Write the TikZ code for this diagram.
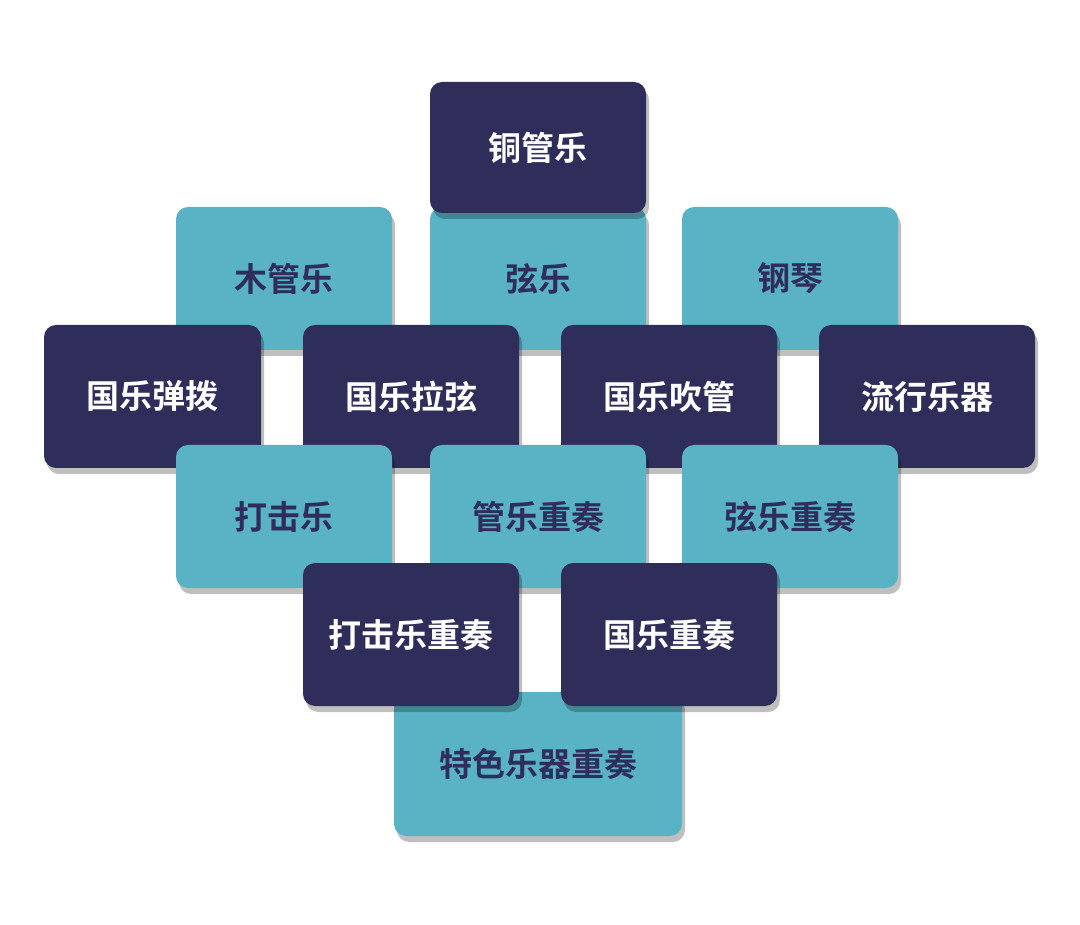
\documentclass[tikz,border=0pt]{standalone}
\usepackage{fontspec}
\newfontfamily\cjk{Noto Sans CJK SC Bold}
\usetikzlibrary{shadows}
\definecolor{dk}{HTML}{2F2E5B}
\definecolor{tl}{HTML}{59B3C4}
\tikzset{
 bx/.style={rounded corners=12pt, drop shadow={shadow xshift=3pt,shadow yshift=-6pt,opacity=0.25,fill=black}},
 dkbox/.style={bx, fill=dk},
 tlbox/.style={bx, fill=tl},
 dtxt/.style={text=white, font=\cjk\fontsize{33}{36}\selectfont},
 ttxt/.style={text=dk, font=\cjk\fontsize{33}{36}\selectfont}
}
\newcommand\mybox[7]{% style,textstyle,name,x1,y1,x2,y2,text -> uses #7 as text
 \path[#1] (#4) rectangle (#5);
}
\begin{document}
\begin{tikzpicture}[x=1pt,y=-1pt]
\useasboundingbox (0,0) rectangle (1080,925);
\newcommand\B[7]{\path[#1] (#3,#4) rectangle (#5,#6); \node[#2] (#7) at ({(#3+#5)/2},{(#4+#6)/2}) {#7};}
% row 2 teal
\B{tlbox}{ttxt}{176}{207}{392}{350}{木管乐}
\B{tlbox}{ttxt}{430}{207}{646}{350}{弦乐}
\B{tlbox}{ttxt}{682}{207}{898}{350}{钢琴}
% row 1
\B{dkbox}{dtxt}{430}{82}{646}{213}{铜管乐}
% row 3
\B{dkbox}{dtxt}{44}{325}{261}{468}{国乐弹拨}
\B{dkbox}{dtxt}{303}{325}{519}{468}{国乐拉弦}
\B{dkbox}{dtxt}{561}{325}{777}{468}{国乐吹管}
\B{dkbox}{dtxt}{819}{325}{1035}{468}{流行乐器}
% row 4
\B{tlbox}{ttxt}{176}{445}{392}{588}{打击乐}
\B{tlbox}{ttxt}{430}{445}{646}{588}{管乐重奏}
\B{tlbox}{ttxt}{682}{445}{898}{588}{弦乐重奏}
% row 6
\B{tlbox}{ttxt}{394}{692}{682}{836}{特色乐器重奏}
% row 5
\B{dkbox}{dtxt}{303}{563}{519}{706}{打击乐重奏}
\B{dkbox}{dtxt}{561}{563}{777}{706}{国乐重奏}
\end{tikzpicture}
\end{document}
